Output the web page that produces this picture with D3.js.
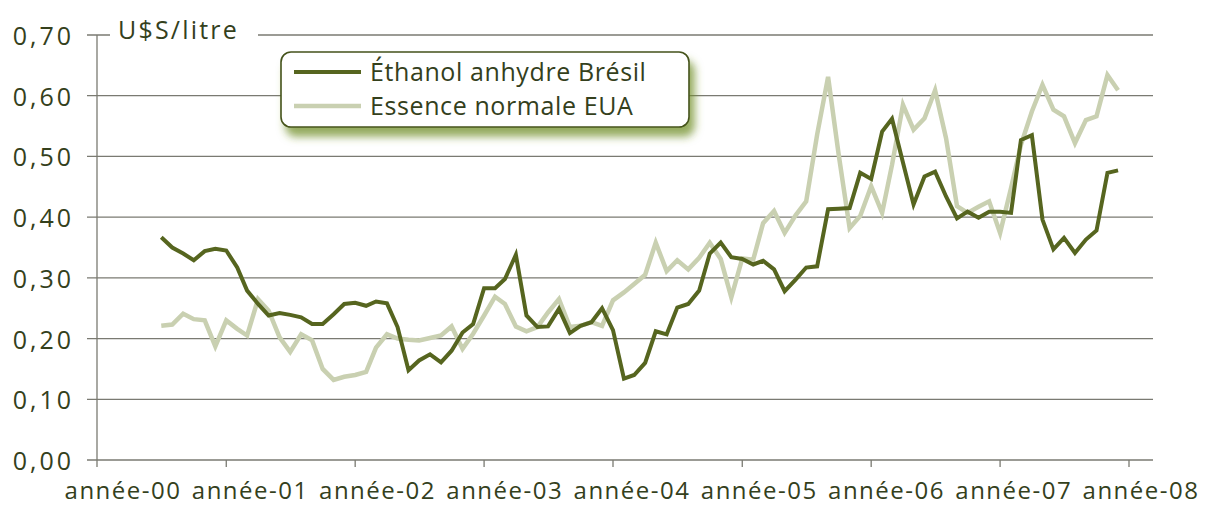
<!DOCTYPE html>
<html>
<head>
<meta charset="utf-8">
<script src="https://cdn.jsdelivr.net/npm/d3@7"></script>
<style>
  body { margin: 0; background: #fff; }
  text { font-family: "Open Sans", sans-serif; fill: #34401c; }
</style>
</head>
<body>
<script>
var w = 1214;
var h = 506;

// monthly values, July 2000 -> December 2007
var firstMonth = new Date(2000, 6, 1);

var ethanol = [
  0.367, 0.350, 0.340, 0.329, 0.344, 0.348, 0.345, 0.317, 0.279, 0.257, 0.238, 0.242,
  0.239, 0.235, 0.224, 0.224, 0.240, 0.257, 0.259, 0.254, 0.261, 0.258, 0.219, 0.148,
  0.164, 0.174, 0.161, 0.180, 0.210, 0.224, 0.283, 0.283, 0.298, 0.338, 0.238, 0.219,
  0.220, 0.249, 0.209, 0.221, 0.227, 0.250, 0.214, 0.134, 0.140, 0.160, 0.212, 0.207,
  0.251, 0.257, 0.279, 0.340, 0.358, 0.334, 0.331, 0.322, 0.328, 0.314, 0.278, 0.297,
  0.317, 0.319, 0.413, 0.414, 0.415, 0.473, 0.463, 0.541, 0.562, 0.490, 0.421, 0.467,
  0.475, 0.434, 0.398, 0.409, 0.399, 0.409, 0.409, 0.407, 0.527, 0.535, 0.396, 0.347,
  0.366, 0.341, 0.363, 0.378, 0.473, 0.477
];

var essence = [
  0.221, 0.223, 0.241, 0.232, 0.230, 0.187, 0.230, 0.216, 0.205, 0.265, 0.246, 0.202,
  0.178, 0.207, 0.197, 0.150, 0.132, 0.137, 0.140, 0.145, 0.185, 0.207, 0.200, 0.198,
  0.197, 0.201, 0.205, 0.220, 0.183, 0.208, 0.238, 0.269, 0.257, 0.220, 0.212, 0.219,
  0.243, 0.265, 0.219, 0.221, 0.227, 0.221, 0.263, 0.276, 0.290, 0.305, 0.358, 0.311,
  0.329, 0.314, 0.333, 0.358, 0.331, 0.268, 0.332, 0.330, 0.390, 0.410, 0.374, 0.403,
  0.426, 0.536, 0.631, 0.503, 0.382, 0.402, 0.451, 0.407, 0.486, 0.585, 0.544, 0.563,
  0.609, 0.530, 0.418, 0.407, 0.417, 0.426, 0.374, 0.448, 0.519, 0.574, 0.618, 0.577,
  0.566, 0.522, 0.560, 0.566, 0.634, 0.609
];

var yTicks = [0, 0.1, 0.2, 0.3, 0.4, 0.5, 0.6, 0.7];
var yearLabels = ["année-00", "année-01", "année-02", "année-03", "année-04",
                  "année-05", "année-06", "année-07", "année-08"];
var seriesNames = ["Éthanol anhydre Brésil", "Essence normale EUA"];
var unitLabel = "U$S/litre";

var ethColor = "#56651f";
var essColor = "#c9d0b1";
var gridColor = "#7a7a72";

drawChart();

function drawChart(){
    var svg = d3.select("body")
        .append("svg")
        .attr("width", w)
        .attr("height", h);

    var x = d3.scaleTime()
        .domain([new Date(2000, 0, 1), new Date(2008, 0, 1)])
        .range([97, 1129]);
    var y = d3.scaleLinear()
        .domain([0, 0.7])
        .range([460, 35]);
    // the year captions run a little tighter than the ticks
    var xLabel = d3.scalePoint()
        .domain(yearLabels)
        .range([123, 1141]);

    var monthOf = function(i){ return d3.timeMonth.offset(firstMonth, i); };

    //---grid-----
    svg.append("g").selectAll("line")
        .data(yTicks)
        .join("line")
        .attr("x1", 87)
        .attr("x2", 1153)
        .attr("y1", d => y(d))
        .attr("y2", d => y(d))
        .attr("stroke", gridColor)
        .attr("stroke-width", 1.3);

    svg.append("line")
        .attr("x1", x.range()[0]).attr("x2", x.range()[0])
        .attr("y1", y(0.7)).attr("y2", y(0))
        .attr("stroke", gridColor)
        .attr("stroke-width", 1.3);

    // year ticks under the zero line
    var years = d3.timeYear.range(new Date(2000, 0, 1), new Date(2008, 0, 2));
    svg.append("g").selectAll("line")
        .data(years)
        .join("line")
        .attr("x1", d => x(d)).attr("x2", d => x(d))
        .attr("y1", y(0)).attr("y2", y(0) + 7)
        .attr("stroke", gridColor)
        .attr("stroke-width", 1.3);

    //---axis labels-----
    svg.append("g").selectAll("text")
        .data(yTicks)
        .join("text")
        .text(d => d3.format(".2f")(d).replace(".", ","))
        .attr("x", 74)
        .attr("y", d => y(d) + 10)
        .attr("text-anchor", "end")
        .attr("font-size", 25)
        .attr("letter-spacing", 3);

    svg.append("g").selectAll("text")
        .data(yearLabels)
        .join("text")
        .text(d => d)
        .attr("x", d => xLabel(d))
        .attr("y", 499)
        .attr("text-anchor", "middle")
        .attr("font-size", 24)
        .attr("letter-spacing", 1.5);

    // unit label sits in a gap of the top grid line
    svg.append("rect")
        .attr("x", 110).attr("y", 18)
        .attr("width", 148).attr("height", 32)
        .attr("fill", "#fff");
    svg.append("text")
        .text(unitLabel)
        .attr("x", 118)
        .attr("y", 39)
        .attr("font-size", 25)
        .attr("letter-spacing", 2.2);

    //---lines-----
    var line = d3.line()
        .x((d, i) => x(monthOf(i)))
        .y(d => y(d));

    svg.append("path")
        .datum(essence)
        .attr("d", line)
        .attr("fill", "none")
        .attr("stroke", essColor)
        .attr("stroke-width", 4.5)
        .attr("stroke-linejoin", "miter");

    svg.append("path")
        .datum(ethanol)
        .attr("d", line)
        .attr("fill", "none")
        .attr("stroke", ethColor)
        .attr("stroke-width", 4)
        .attr("stroke-linejoin", "miter");

    //---legend-----
    var defs = svg.append("defs");
    var f = defs.append("filter")
        .attr("id", "shadow")
        .attr("x", "-10%").attr("y", "-20%")
        .attr("width", "130%").attr("height", "160%");
    f.append("feDropShadow")
        .attr("dx", 5).attr("dy", 9)
        .attr("stdDeviation", 4)
        .attr("flood-color", "#6f8f2c")
        .attr("flood-opacity", 0.75);

    var lg = svg.append("g").attr("transform", "translate(281,52)");
    lg.append("rect")
        .attr("width", 408).attr("height", 75)
        .attr("rx", 10)
        .attr("fill", "#fff")
        .attr("stroke", "#44521a")
        .attr("stroke-width", 1.6)
        .attr("filter", "url(#shadow)");

    var colors = [ethColor, essColor];
    var widths = [4, 4.5];
    seriesNames.forEach(function(name, i){
        lg.append("line")
            .attr("x1", 13).attr("x2", 80)
            .attr("y1", 20 + i * 34).attr("y2", 20 + i * 34)
            .attr("stroke", colors[i])
            .attr("stroke-width", widths[i]);
        lg.append("text")
            .text(name)
            .attr("x", 89)
            .attr("y", 29 + i * 34)
            .attr("font-size", 25)
            .attr("letter-spacing", 0.6);
    });
}
</script>
</body>
</html>
